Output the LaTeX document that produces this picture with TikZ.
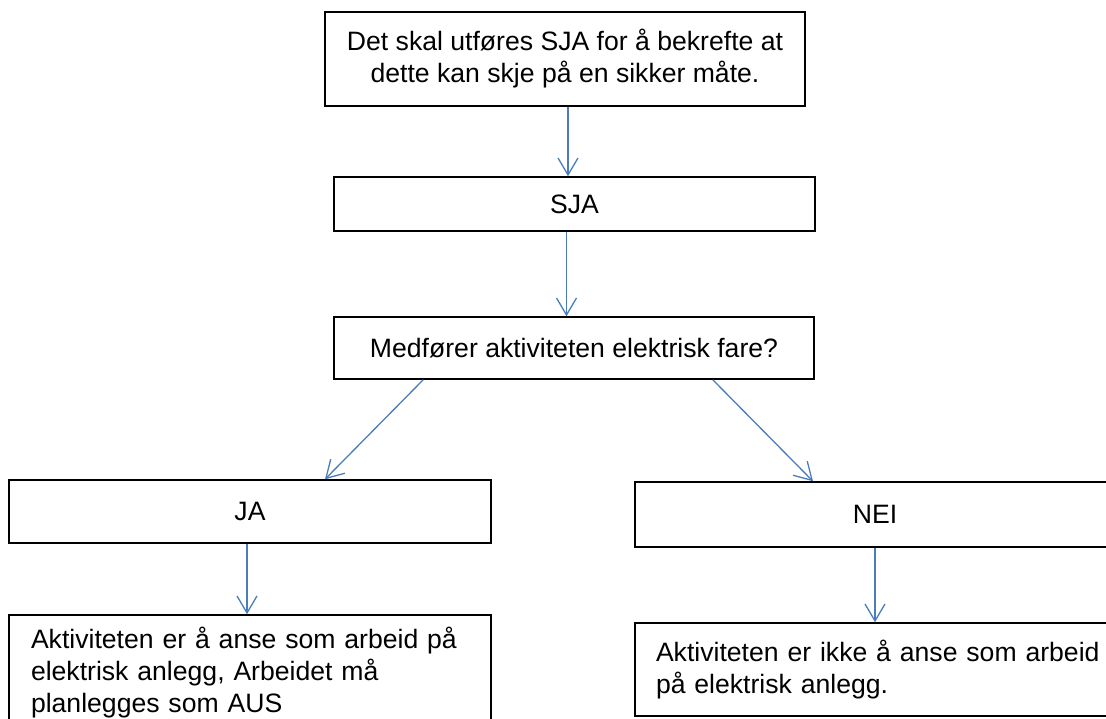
\documentclass[tikz,border=0pt]{standalone}
\usepackage{fontspec}
\setmainfont{Liberation Sans}
\usetikzlibrary{positioning}
\usetikzlibrary{arrows.meta}
\definecolor{pilblaa}{RGB}{74,126,187}

\begin{document}
\begin{tikzpicture}[x=1pt,y=-1pt,
  boks/.style={draw=black,line width=1.5pt,rectangle,inner sep=0pt,
    font=\fontsize{26.6}{32}\selectfont},
  pil/.style={draw=pilblaa,line width=1.3pt,-{Straight Barb[length=17pt,width=20pt]}}]
 \useasboundingbox (0,0) rectangle (1106,719);
 \clip (0,0) rectangle (1106,719);
 \node[boks,minimum width=480pt,minimum height=94pt,align=center] (det) at (565,59)
   {Det skal utføres SJA for å bekrefte at\\dette kan skje på en sikker måte.};
 \node[boks,minimum width=481pt,minimum height=54pt] (sja) at (574.5,204) {SJA};
 \node[boks,minimum width=480pt,minimum height=62pt] (fare) at (574,348)
   {Medfører aktiviteten elektrisk fare?};
 \node[boks,minimum width=482pt,minimum height=63pt] (ja) at (250,511.5) {JA};
 \node[boks,minimum width=480pt,minimum height=65pt] (nei) at (875,514.5) {NEI};
 \node[boks,minimum width=482pt,minimum height=115pt,text width=438pt,
   inner xsep=22pt,align=left] (aktja) at (250,672.5)
   {Aktiviteten er å anse som arbeid på\\elektrisk anlegg, Arbeidet må\\planlegges som AUS};
 \node[boks,minimum height=93pt,text width=459pt,
   inner xsep=21pt,align=left] (aktnei) at (885.5,669.5)
   {Aktiviteten er ikke å anse som arbeid\\på elektrisk anlegg.};
 \draw[pil] ([xshift=3pt]det.south) -- ([xshift=3pt]det.south |- sja.north);
 \draw[pil] ([xshift=-8pt]sja.south) -- ([xshift=-8pt]sja.south |- fare.north);
 \draw[pil] ([xshift=90pt]fare.south west) -- ([xshift=75pt]ja.north);
 \draw[pil] ([xshift=-102pt]fare.south east) -- ([xshift=-62pt]nei.north);
 \draw[pil] ([xshift=-3pt]ja.south) -- ([xshift=-3pt]ja.south |- aktja.north);
 \draw[pil] (nei.south) -- (nei.south |- aktnei.north);
\end{tikzpicture}
\end{document}
